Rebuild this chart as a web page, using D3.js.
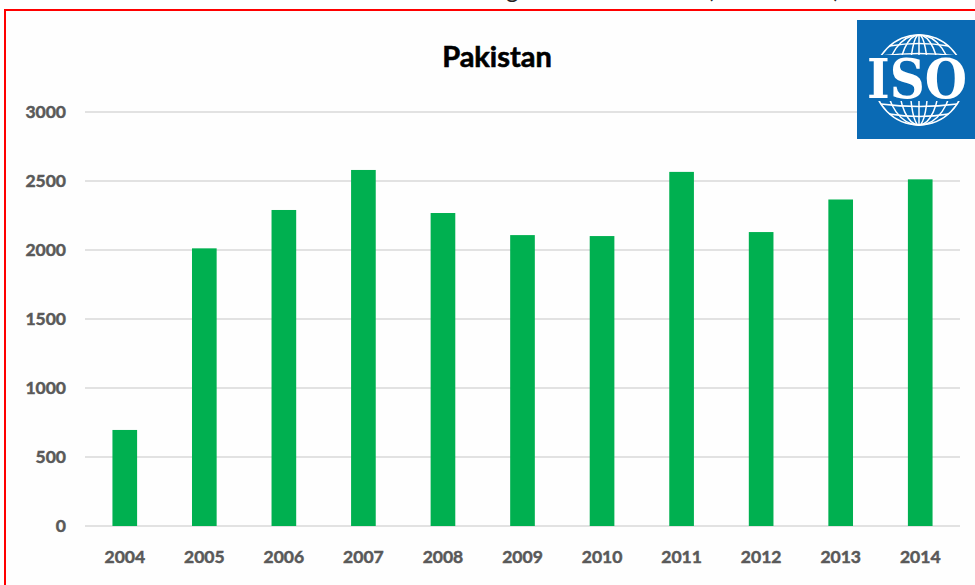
<!DOCTYPE html>
<html>
<head>
<meta charset="utf-8">
<script src="https://cdn.jsdelivr.net/npm/d3@7"></script>
<style>
  body { margin: 0; background: #fff; }
  svg { display: block; }
  .tick text { font-family: Lato, "Open Sans", sans-serif; font-weight: bold; }
</style>
</head>
<body>
<div id="chart"></div>
<script>
// data
var years = ["2004", "2005", "2006", "2007", "2008", "2009", "2010", "2011", "2012", "2013", "2014"];
var certificates = [696, 2012, 2290, 2580, 2268, 2108, 2101, 2566, 2130, 2366, 2512];
var yTicks = [0, 500, 1000, 1500, 2000, 2500, 3000];

var svgWidth = 975;
var svgHeight = 585;

var margin = { top: 112, bottom: 59, left: 85, right: 15 };
var w = svgWidth - margin.left - margin.right;
var h = svgHeight - margin.top - margin.bottom;

var svg = d3.select("#chart")
    .append("svg")
    .attr("width", svgWidth)
    .attr("height", svgHeight);

// caption above the frame, mostly cut off like in the source picture
svg.append("text")
    .attr("x", 840)
    .attr("y", -2)
    .attr("text-anchor", "end")
    .attr("font-family", "Lato, sans-serif")
    .attr("font-size", "24px")
    .attr("fill", "#222")
    .text("ISO 9001 certificates growth in Pakistan (2004-2014)");

// red frame
svg.append("rect")
    .attr("x", 5)
    .attr("y", 10)
    .attr("width", 985)
    .attr("height", 600)
    .attr("fill", "#fefefe")
    .attr("stroke", "#ff0000")
    .attr("stroke-width", 2);

var chartGroup = svg.append("g")
    .attr("transform", `translate(${margin.left}, ${margin.top})`);

var xScale = d3.scaleBand()
    .domain(years)
    .range([0, w])
    .paddingInner(0.69)
    .paddingOuter(0.345);

var yScale = d3.scaleLinear()
    .domain([0, 3000])
    .range([h, 0]);

// gridlines
chartGroup.append("g")
    .selectAll("line")
    .data(yTicks)
    .enter()
    .append("line")
    .attr("x1", 0)
    .attr("x2", w)
    .attr("y1", d => yScale(d))
    .attr("y2", d => yScale(d))
    .attr("stroke", "#d9d9d9")
    .attr("stroke-width", 1.5);

// y axis
var yAxis = chartGroup.append("g")
    .call(d3.axisLeft(yScale).tickValues(yTicks).tickFormat(d3.format("d")).tickSize(0).tickPadding(19));
yAxis.select(".domain").remove();
yAxis.selectAll("text")
    .attr("font-size", "17.5px")
    .attr("fill", "#595959")
    .attr("stroke", "#595959")
    .attr("stroke-width", 0.5);

// x axis
var xAxis = chartGroup.append("g")
    .attr("transform", `translate(0, ${h})`)
    .call(d3.axisBottom(xScale).tickSize(0).tickPadding(25));
xAxis.select(".domain").remove();
xAxis.selectAll("text")
    .attr("font-size", "17.5px")
    .attr("fill", "#595959")
    .attr("stroke", "#595959")
    .attr("stroke-width", 0.5);

// bars
chartGroup.selectAll(".bar")
    .data(certificates)
    .enter()
    .append("rect")
    .attr("class", "bar")
    .attr("x", (d, i) => xScale(years[i]))
    .attr("y", d => yScale(d))
    .attr("width", xScale.bandwidth())
    .attr("height", d => h - yScale(d))
    .attr("fill", "#00b050");

// title
svg.append("text")
    .attr("x", 497)
    .attr("y", 67)
    .attr("text-anchor", "middle")
    .attr("font-family", "Lato, sans-serif")
    .attr("font-weight", "bold")
    .attr("font-size", "29px")
    .attr("fill", "#000")
    .attr("stroke", "#000")
    .attr("stroke-width", 0.6)
    .text("Pakistan");

// ISO logo
var logo = svg.append("g").attr("transform", "translate(857, 20)");
logo.append("rect")
    .attr("width", 130)
    .attr("height", 119)
    .attr("fill", "#0a6ab4");

var defs = svg.append("defs");
var clip = defs.append("clipPath").attr("id", "globeClip");
clip.append("rect").attr("x", 0).attr("y", 0).attr("width", 130).attr("height", 35);
clip.append("rect").attr("x", 0).attr("y", 81).attr("width", 130).attr("height", 40);

var cx = 62, cy = 60, r = 45;
var globe = logo.append("g")
    .attr("clip-path", "url(#globeClip)")
    .attr("fill", "none")
    .attr("stroke", "#fff")
    .attr("stroke-width", 1.5);
globe.append("circle").attr("cx", cx).attr("cy", cy).attr("r", r);
// meridians
[0.2, 0.45, 0.72].forEach(function (k) {
    globe.append("ellipse").attr("cx", cx).attr("cy", cy).attr("rx", r * k).attr("ry", r);
});
globe.append("line").attr("x1", cx).attr("x2", cx).attr("y1", cy - r).attr("y2", cy + r);
// parallels
[-34, -24, 24, 34].forEach(function (dy) {
    var half = Math.sqrt(r * r - dy * dy);
    globe.append("path")
        .attr("d", `M${cx - half},${cy + dy} Q${cx},${cy + dy + (dy < 0 ? -5 : 5)} ${cx + half},${cy + dy}`);
});

logo.append("text")
    .attr("x", 10)
    .attr("y", 78)
    .attr("textLength", 100)
    .attr("lengthAdjust", "spacingAndGlyphs")
    .attr("font-family", "'DejaVu Serif', serif")
    .attr("font-weight", "bold")
    .attr("font-size", "55px")
    .attr("fill", "#fff")
    .attr("stroke", "#0a6ab4")
    .attr("stroke-width", 2.5)
    .attr("paint-order", "stroke")
    .text("ISO");
</script>
</body>
</html>
